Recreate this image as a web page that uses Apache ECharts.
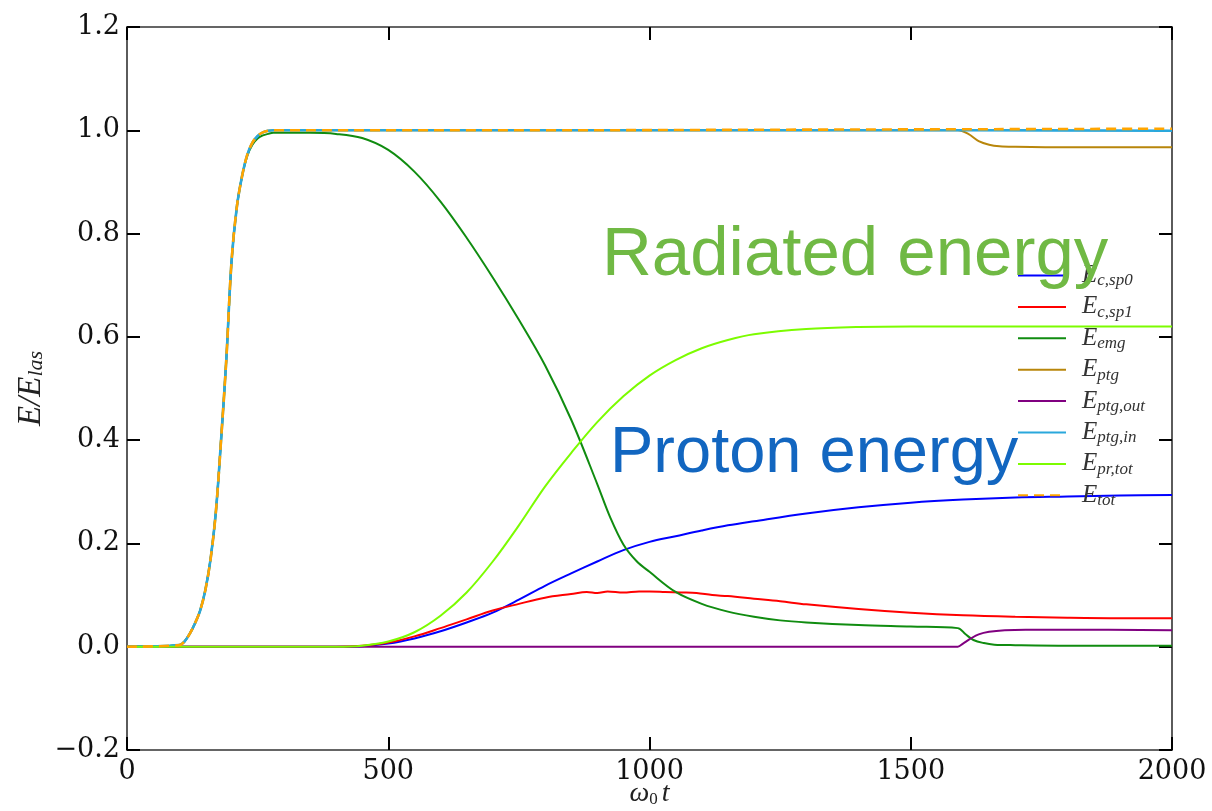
<!DOCTYPE html>
<html>
<head>
<meta charset="utf-8">
<script src="https://cdn.jsdelivr.net/npm/echarts@6/dist/echarts.min.js"></script>
<style>
html, body { margin: 0; padding: 0; background: #ffffff; }
#chart { width: 1212px; height: 811px; }
</style>
</head>
<body>
<div id="chart"></div>
<script>
// Energy balance, normalised to laser energy, versus omega_0 t

// laser ramp shared by the target / total energy curves
const tRamp = [0, 100, 110, 120, 130, 140, 150, 160, 170, 180, 190, 200, 210, 220, 230, 240, 250, 260, 270, 280];
const eRamp = [0, 0.003, 0.01, 0.025, 0.045, 0.07, 0.11, 0.17, 0.26, 0.40, 0.555, 0.745, 0.85, 0.91, 0.952, 0.976, 0.989, 0.996, 0.999, 1.0];

// E_c,sp0
const tSp0 = [0, 400, 450, 500, 550, 600, 650, 700, 750, 800, 850, 900, 950, 1000, 1050, 1100, 1150, 1200, 1300, 1400, 1500, 1600, 1700, 1800, 1900, 2000];
const eSp0 = [0, 0, 0.001, 0.006, 0.016, 0.03, 0.047, 0.066, 0.091, 0.118, 0.142, 0.165, 0.187, 0.203, 0.214, 0.225, 0.235, 0.243, 0.258, 0.27, 0.279, 0.285, 0.289, 0.291, 0.293, 0.294];

// E_c,sp1
const tSp1 = [0, 400, 450, 500, 550, 600, 650, 700, 750, 800, 850, 880, 900, 920, 950, 980, 1000, 1030, 1060, 1090, 1120, 1150, 1200, 1250, 1300, 1400, 1500, 1600, 1700, 1800, 1900, 2000];
const eSp1 = [0, 0, 0.002, 0.008, 0.02, 0.036, 0.053, 0.07, 0.083, 0.095, 0.102, 0.106, 0.104, 0.107, 0.105, 0.107, 0.107, 0.106, 0.105, 0.104, 0.1, 0.098, 0.093, 0.088, 0.082, 0.073, 0.066, 0.061, 0.058, 0.056, 0.055, 0.055];

// E_emg
const tEmg = [0, 100, 110, 120, 130, 140, 150, 160, 170, 180, 190, 200, 210, 220, 230, 240, 250, 260, 270, 280,
  300, 350, 400, 450, 500, 550, 600, 650, 700, 750, 800, 850, 900, 925, 950, 975, 1000, 1050, 1100, 1150, 1200, 1250, 1300, 1400, 1500,
  1590, 1605, 1620, 1640, 1660, 1700, 1800, 2000];
const eEmg = [0, 0.003, 0.01, 0.025, 0.045, 0.07, 0.11, 0.17, 0.26, 0.40, 0.555, 0.745, 0.85, 0.91, 0.95, 0.972, 0.984, 0.99, 0.993, 0.995,
  0.995, 0.995, 0.993, 0.985, 0.962, 0.92, 0.862, 0.792, 0.715, 0.633, 0.545, 0.44, 0.315, 0.25, 0.198, 0.166, 0.145, 0.106, 0.083, 0.068, 0.058, 0.051, 0.047, 0.042, 0.039,
  0.036, 0.024, 0.013, 0.007, 0.004, 0.003, 0.002, 0.002];

// E_ptg (after the ramp)
const tPtg = [400, 800, 1200, 1590, 1610, 1630, 1650, 1670, 1700, 1800, 2000];
const ePtg = [1.0, 1.0, 1.0, 1.0, 0.993, 0.979, 0.972, 0.969, 0.968, 0.967, 0.967];

// E_ptg,out
const tOut = [0, 1590, 1600, 1615, 1630, 1650, 1680, 1720, 1800, 2000];
const eOut = [0, 0, 0.006, 0.016, 0.024, 0.029, 0.032, 0.033, 0.033, 0.032];

// E_ptg,in (after the ramp)
const tIn = [400, 800, 1200, 1600, 2000];
const eIn = [1.0, 1.0, 1.0, 1.0, 0.999];

// E_pr,tot
const tPr = [0, 400, 450, 500, 550, 600, 650, 700, 750, 800, 850, 900, 950, 1000, 1050, 1100, 1150, 1200, 1300, 1400, 1500, 1700, 2000];
const ePr = [0, 0, 0.002, 0.01, 0.028, 0.06, 0.105, 0.165, 0.235, 0.31, 0.375, 0.435, 0.485, 0.525, 0.555, 0.578, 0.594, 0.605, 0.615, 0.619, 0.62, 0.62, 0.62];

// E_tot (after the ramp)
const tTot = [400, 800, 1200, 1600, 2000];
const eTot = [1.0, 1.0, 1.001, 1.002, 1.003];

// legend subscripts, in drawing order
const subs = ['c,sp0', 'c,sp1', 'emg', 'ptg', 'ptg,out', 'ptg,in', 'pr,tot', 'tot'];
const colors = ['#0000ff', '#ff0000', '#108c10', '#b8860b', '#800080', '#2aa8dc', '#7cfc00', '#ffa500'];

const xTicks = { min: 0, max: 2000, step: 500 };
const yTicks = { min: -0.2, max: 1.2, step: 0.2 };

const zip = (t, e) => t.map((x, i) => [x, e[i]]);

const curves = [
  zip(tSp0, eSp0),
  zip(tSp1, eSp1),
  zip(tEmg, eEmg),
  zip(tRamp.concat(tPtg), eRamp.concat(ePtg)),
  zip(tOut, eOut),
  zip(tRamp.concat(tIn), eRamp.concat(eIn)),
  zip(tPr, ePr),
  zip(tRamp.concat(tTot), eRamp.concat(eTot))
];

const serif = 'DejaVu Serif';
const mathFont = 'Liberation Serif';

const series = curves.map((data, i) => ({
  name: subs[i],
  type: 'line',
  data: data,
  showSymbol: false,
  symbol: 'none',
  legendIcon: 'none',
  smooth: 0.35,
  clip: true,
  xAxisIndex: 0,
  yAxisIndex: 0,
  lineStyle: {
    color: colors[i],
    width: i === 7 ? 2.6 : (i === 5 ? 2.6 : 2),
    type: i === 7 ? [10, 6] : 'solid'
  },
  itemStyle: { color: colors[i] },
  emphasis: { disabled: true },
  z: 2 + i
}));

const yFmt = v => {
  if (Math.abs(v) < 1e-9) return '0.0';
  return v < 0 ? '\u2212' + Math.abs(v).toFixed(1) : v.toFixed(1);
};
const xFmt = v => String(Math.round(v));

const frameLine = { show: true, onZero: false, lineStyle: { color: '#333', width: 1.6 } };
const tickIn = { show: true, inside: true, length: 13, lineStyle: { color: '#000', width: 2 } };

const chart = echarts.init(document.getElementById('chart'), null, { renderer: 'canvas' });

chart.setOption({
  animation: false,
  backgroundColor: '#ffffff',
  grid: { left: 127, right: 40, top: 27, bottom: 61, containLabel: false, outerBoundsMode: 'none' },
  xAxis: [
    {
      type: 'value', position: 'bottom',
      min: xTicks.min, max: xTicks.max, interval: xTicks.step,
      axisLine: frameLine, axisTick: tickIn, splitLine: { show: false },
      axisLabel: { show: true, margin: 8, color: '#111', fontFamily: serif, fontSize: 27, formatter: xFmt },
      name: '{w|\u03c9}{s|0}{w|t}',
      nameLocation: 'middle', nameGap: 30, nameMoveOverlap: false,
      nameTextStyle: {
        rich: {
          w: { fontFamily: mathFont, fontStyle: 'italic', fontSize: 28, color: '#222', lineHeight: 28, verticalAlign: 'middle' },
          s: { fontFamily: mathFont, fontSize: 17, color: '#222', lineHeight: 14, verticalAlign: 'bottom', padding: [0, 4, 0, 0] }
        }
      }
    },
    {
      type: 'value', position: 'top',
      min: xTicks.min, max: xTicks.max, interval: xTicks.step,
      axisLine: frameLine, axisTick: tickIn, axisLabel: { show: false }, splitLine: { show: false }
    }
  ],
  yAxis: [
    {
      type: 'value', position: 'left',
      min: yTicks.min, max: yTicks.max, interval: yTicks.step,
      axisLine: frameLine, axisTick: tickIn, splitLine: { show: false },
      axisLabel: { show: true, margin: 7, color: '#111', fontFamily: serif, fontSize: 27, formatter: yFmt },
      name: '{e|E/E}{s|las}',
      nameLocation: 'middle', nameGap: 80, nameRotate: 90, nameMoveOverlap: false,
      nameTextStyle: {
        rich: {
          e: { fontFamily: mathFont, fontStyle: 'italic', fontSize: 33, color: '#222', lineHeight: 32, verticalAlign: 'middle' },
          s: { fontFamily: mathFont, fontStyle: 'italic', fontSize: 22, color: '#222', lineHeight: 18, verticalAlign: 'bottom' }
        }
      }
    },
    {
      type: 'value', position: 'right',
      min: yTicks.min, max: yTicks.max, interval: yTicks.step,
      axisLine: frameLine, axisTick: tickIn, axisLabel: { show: false }, splitLine: { show: false }
    }
  ],
  legend: {
    show: true,
    orient: 'vertical',
    left: 1012, top: 258,
    itemWidth: 48, itemHeight: 12,
    itemGap: 4.9,
    selectedMode: false,
    data: subs,
    itemStyle: { opacity: 0 },
    formatter: name => '{e|E}{s|' + name + '}',
    textStyle: {
      rich: {
        e: { fontFamily: mathFont, fontStyle: 'italic', fontSize: 25, color: '#333', lineHeight: 28, verticalAlign: 'middle', padding: [0, 0, 0, 11] },
        s: { fontFamily: mathFont, fontStyle: 'italic', fontSize: 17, color: '#333', lineHeight: 11, verticalAlign: 'bottom' }
      }
    }
  },
  series: series,
  graphic: [
    {
      type: 'text', left: 602, top: 221, z: 100,
      style: { text: 'Radiated energy', font: '69px "Liberation Sans", Arial, sans-serif', fill: '#70b944' }
    },
    {
      type: 'text', left: 610, top: 422, z: 100,
      style: { text: 'Proton energy', font: '65px "Liberation Sans", Arial, sans-serif', fill: '#1266c0' }
    }
  ]
});
</script>
</body>
</html>
